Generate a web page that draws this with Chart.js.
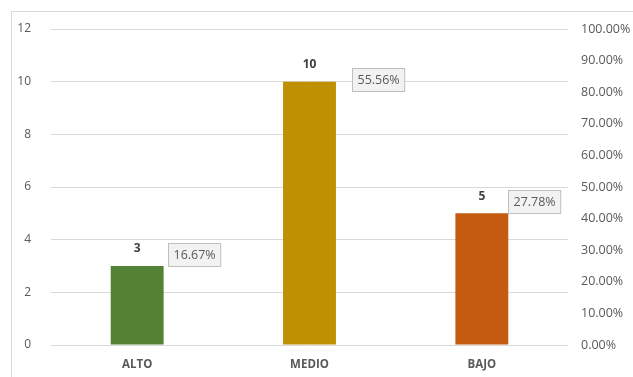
<!DOCTYPE html>
<html>

<head>
    <title>Niveles</title>
    <style>
        body {
            margin: 0;
            background: white;
            overflow: hidden;
        }

        /* marco gris alrededor del grafico */
        .marco {
            position: absolute;
            left: 11px;
            top: 11px;
            width: 700px;
            height: 450px;
            border: 1px solid #d9d9d9;
        }

        .chart-container {
            position: absolute;
            left: 0;
            top: 0;
            width: 633px;
            height: 377px;
        }
    </style>
</head>

<body>
    <div class="marco"></div>
    <div class="chart-container">
        <canvas id="chartNiveles"></canvas>
    </div>

    <script src="https://cdn.jsdelivr.net/npm/chart.js"></script>
    <script>
        // Datos del grafico
        const categorias = ['ALTO', 'MEDIO', 'BAJO'];
        const cantidades = [3, 10, 5];
        const porcentajes = [16.67, 55.56, 27.78];
        const colores = ['#548235', '#bf9000', '#c55a11'];

        // Escala secundaria (porcentaje)
        const pctMin = 0;
        const pctMax = 100;
        const pctPaso = 10;

        const fuente = '"Open Sans", "DejaVu Sans", sans-serif';

        // desplazamiento de la caja de porcentaje respecto a la barra
        const cajaOffsets = [
            { dx: 4, dy: -23 },
            { dx: 16, dy: -14 },
            { dx: 0, dy: -23 }
        ];

        const etiquetasPlugin = {
            id: 'etiquetas',
            afterDatasetsDraw(chart) {
                const ctx = chart.ctx;
                const meta = chart.getDatasetMeta(0);
                ctx.save();
                meta.data.forEach(function (bar, i) {
                    // valor encima de la barra
                    ctx.font = 'bold 12px ' + fuente;
                    ctx.fillStyle = '#404040';
                    ctx.textAlign = 'center';
                    ctx.textBaseline = 'middle';
                    ctx.fillText(String(cantidades[i]), bar.x, bar.y - 17);

                    // caja con el porcentaje
                    const texto = porcentajes[i].toFixed(2) + '%';
                    ctx.font = '12.5px ' + fuente;
                    const w = ctx.measureText(texto).width + 10;
                    const h = 23;
                    const x0 = Math.round(bar.x + bar.width / 2 + cajaOffsets[i].dx) + 0.5;
                    const y0 = Math.round(bar.y + cajaOffsets[i].dy) + 0.5;
                    ctx.fillStyle = '#f2f2f2';
                    ctx.fillRect(x0, y0, w, h);
                    ctx.strokeStyle = '#bfbfbf';
                    ctx.lineWidth = 1;
                    ctx.strokeRect(x0, y0, w, h);
                    ctx.fillStyle = '#595959';
                    ctx.textAlign = 'left';
                    ctx.fillText(texto, x0 + 5, y0 + h / 2 + 0.5);
                });
                ctx.restore();
            }
        };

        const ctxNiveles = document.getElementById('chartNiveles').getContext('2d');

        const chartNiveles = new Chart(ctxNiveles, {
            type: 'bar',
            data: {
                labels: categorias,
                datasets: [{
                    label: 'Cantidad',
                    data: cantidades,
                    backgroundColor: colores,
                    borderWidth: 0,
                    categoryPercentage: 1,
                    barPercentage: 0.307
                }]
            },
            options: {
                responsive: true,
                maintainAspectRatio: false,
                animation: false,
                layout: {
                    padding: { top: 29, left: 0, right: 0, bottom: 0 }
                },
                plugins: {
                    legend: { display: false },
                    tooltip: { enabled: false }
                },
                scales: {
                    x: {
                        grid: { display: false },
                        border: { display: false },
                        ticks: {
                            color: '#595959',
                            padding: 5,
                            font: { family: fuente, size: 11.5, weight: 'bold' }
                        },
                        afterFit: function (scale) { scale.height = 32; }
                    },
                    y: {
                        position: 'left',
                        min: 0,
                        max: 12,
                        ticks: {
                            stepSize: 2,
                            color: '#595959',
                            padding: 20,
                            font: { family: fuente, size: 12 }
                        },
                        grid: {
                            color: '#d9d9d9',
                            drawTicks: false
                        },
                        border: { display: false },
                        afterFit: function (scale) { scale.width = 51; }
                    },
                    y2: {
                        position: 'right',
                        min: pctMin,
                        max: pctMax,
                        ticks: {
                            stepSize: pctPaso,
                            color: '#595959',
                            padding: 13,
                            font: { family: fuente, size: 12.5 },
                            callback: function (v) { return v.toFixed(2) + '%'; }
                        },
                        grid: { display: false, drawTicks: false },
                        border: { display: false },
                        afterFit: function (scale) { scale.width = 65; }
                    }
                }
            },
            plugins: [etiquetasPlugin]
        });
    </script>
</body>

</html>
